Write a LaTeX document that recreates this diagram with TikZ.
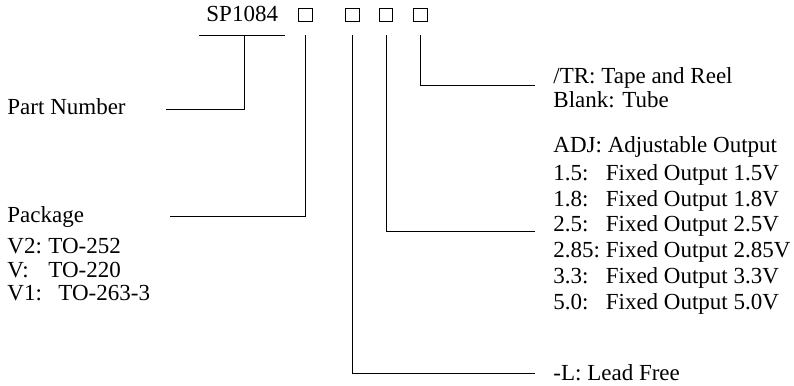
\documentclass[tikz,border=0pt]{standalone}
\usepackage{fontspec}
\setmainfont{Liberation Serif}
\usetikzlibrary{calc}
\newcommand{\colfix}[2]{\makebox[#1][l]{#2}}
\newcommand{\volt}[1]{\rlap{#1}\phantom{2.85:} }

\begin{document}
\begin{tikzpicture}[x=1pt,y=-1pt,line width=0.9pt,
    txt/.style={anchor=base west,inner sep=0pt,font=\fontsize{23}{26}\selectfont},
    sq/.style={draw,minimum size=13.5pt,inner sep=0pt,line width=1.1pt}]
    \useasboundingbox (0,0) rectangle (794,385);

    % part number and the four boxes
    \draw (206,22) node[txt](pn){SP1084};
    \draw (305.5,15) node[sq](b1){};
    \draw (352.5,15) node[sq](b2){};
    \draw (386,15) node[sq](b3){};
    \draw (420.5,15) node[sq](b4){};

    % free ends of the connectors
    \coordinate (ulA) at (199,35);
    \coordinate (ulB) at (285,35);
    \coordinate (ulM) at (244,35);
    \coordinate (endpn) at (166,109);
    \coordinate (endpk) at (170,216);
    \coordinate (endtr) at (535,85);
    \coordinate (endout) at (535,231);
    \coordinate (endlf) at (535,373);

    % left labels
    \draw (7,114) node[txt](lpn){Part Number};
    \draw (7,222) node[txt](lpk){Package};
    \draw (7,253) node[txt](v2){\colfix{41pt}{V2:}TO-252};
    \draw (7,277) node[txt](v){\colfix{41pt}{V:}TO-220};
    \draw (7,300) node[txt](v1){\colfix{51pt}{V1:}TO-263-3};

    % right labels
    \draw (553,84) node[txt](tr){/TR: Tape and Reel};
    \draw (553,107) node[txt](blank){Blank: Tube};
    \draw (553,152) node[txt](adj){ADJ: Adjustable Output};
    \draw (553,180) node[txt](o15){\volt{1.5:}Fixed Output 1.5V};
    \draw (553,206) node[txt](o18){\volt{1.8:}Fixed Output 1.8V};
    \draw (553,231.5) node[txt](o25){\volt{2.5:}Fixed Output 2.5V};
    \draw (553,257) node[txt](o285){\volt{2.85:}Fixed Output 2.85V};
    \draw (553,283) node[txt](o33){\volt{3.3:}Fixed Output 3.3V};
    \draw (553,309) node[txt](o50){\volt{5.0:}Fixed Output 5.0V};
    \draw (553,380) node[txt](lf){-L: Lead Free};

    % connectors
    \draw (ulA) -- (ulB);
    \draw (ulM) |- (endpn);
    \draw ([yshift=-13pt]b1.south) |- (endpk);
    \draw ([yshift=-13pt]b2.south) |- (endlf);
    \draw ([yshift=-13pt]b3.south) |- (endout);
    \draw ([yshift=-13pt]b4.south) |- (endtr);
\end{tikzpicture}
\end{document}
